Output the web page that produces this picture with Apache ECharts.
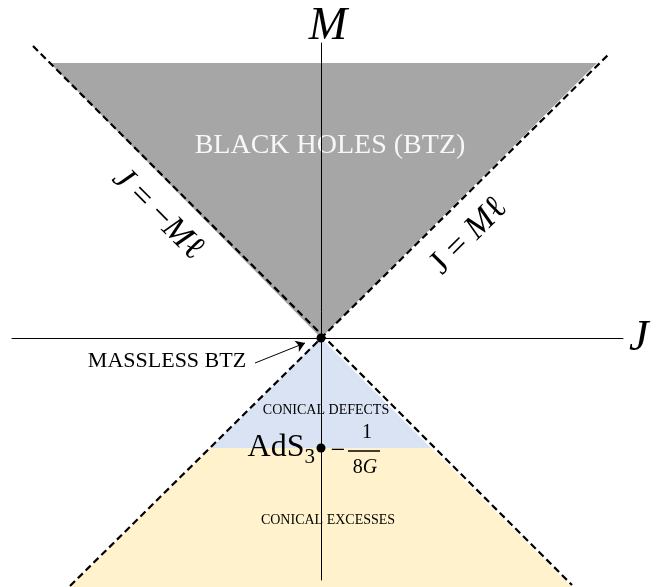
<!DOCTYPE html>
<html>
<head>
<meta charset="utf-8">
<script src="https://cdn.jsdelivr.net/npm/echarts@6/dist/echarts.min.js"></script>
<style>
  html, body { margin: 0; padding: 0; background: #fff; }
  #chart { width: 668px; height: 587px; }
</style>
</head>
<body>
<div id="chart"></div>
<script>
// (J, M) plane, 1 unit = 100px; -1/8G sits at M = -1.10
const blackHoles = [[-2.71, 2.75], [2.76, 2.75], [0, 0]]
const conicalDefects = [[0, 0], [-1.10, -1.10], [1.10, -1.10]]
const conicalExcesses = [[-1.10, -1.10], [1.10, -1.10], [2.52, -2.50], [-2.52, -2.50]]
const lineJminusM = [[-2.88, 2.92], [2.51, -2.47]]
const lineJplusM = [[-2.51, -2.48], [2.88, 2.84]]
const dots = [[0, 0], [0, -1.10]]
const arrow = [[-0.66, -0.25], [-0.16, -0.05]]
const fractionBar = [[0.27, -1.13], [0.59, -1.13]]

const labelTexts = ['BLACK HOLES (BTZ)', 'MASSLESS BTZ', 'CONICAL DEFECTS', 'CONICAL EXCESSES']
const labelAnchors = [[0.09, 1.92], [-1.54, -0.23], [0.05, -0.72], [0.07, -1.82]]

const serif = '"Liberation Serif", "DejaVu Serif", serif'

var myChart = echarts.init(document.getElementById('chart'))

function polygon (points, color) {
  return {
    type: 'custom',
    coordinateSystem: 'cartesian2d',
    silent: true,
    clip: false,
    z: 1,
    data: [[0, 0]],
    renderItem: function (params, api) {
      return {
        type: 'polygon',
        shape: { points: points.map(function (p) { return api.coord(p) }) },
        style: { fill: color }
      }
    }
  }
}

function dashed (points) {
  return {
    type: 'line',
    data: points,
    clip: false,
    silent: true,
    symbol: 'none',
    z: 3,
    lineStyle: { color: '#000', width: 2.2, type: [7, 4] }
  }
}

var textStyles = [
  { fontSize: 28, color: '#f7f7f7' },
  { fontSize: 22, color: '#000' },
  { fontSize: 14, color: '#000' },
  { fontSize: 14, color: '#000' }
]

var option = {
  animation: false,
  grid: { left: 12, right: 45, top: 43, bottom: 7 },
  xAxis: {
    type: 'value',
    min: -3.09,
    max: 3.02,
    name: 'J',
    nameLocation: 'end',
    nameGap: 6,
    nameTextStyle: { fontFamily: serif, fontStyle: 'italic', fontSize: 44, color: '#000' },
    axisLine: { onZero: true, lineStyle: { color: '#000', width: 1 } },
    axisTick: { show: false },
    axisLabel: { show: false },
    splitLine: { show: false },
    z: 10
  },
  yAxis: {
    type: 'value',
    min: -2.42,
    max: 2.95,
    name: 'M',
    nameLocation: 'end',
    nameGap: -2,
    nameTextStyle: { fontFamily: serif, fontStyle: 'italic', fontSize: 46, color: '#000', lineHeight: 36, padding: [0, 0, 0, 14] },
    axisLine: { onZero: true, lineStyle: { color: '#000', width: 1 } },
    axisTick: { show: false },
    axisLabel: { show: false },
    splitLine: { show: false },
    z: 10
  },
  series: [
    polygon(blackHoles, '#a6a6a6'),
    polygon(conicalDefects, '#dae3f3'),
    polygon(conicalExcesses, '#fff2cc'),
    dashed(lineJminusM),
    dashed(lineJplusM),
    {
      type: 'lines',
      coordinateSystem: 'cartesian2d',
      silent: true,
      z: 4,
      symbol: ['none', 'arrow'],
      symbolSize: 9,
      lineStyle: { color: '#000', width: 1, opacity: 1 },
      data: [{ coords: arrow }]
    },
    {
      type: 'line',
      data: fractionBar,
      silent: true,
      symbol: 'none',
      z: 4,
      lineStyle: { color: '#000', width: 1.5 }
    },
    {
      type: 'scatter',
      data: dots,
      symbol: 'circle',
      symbolSize: 9,
      z: 12,
      itemStyle: { color: '#000', opacity: 1 }
    },
    {
      type: 'scatter',
      symbolSize: 0,
      silent: true,
      z: 6,
      itemStyle: { opacity: 1 },
      data: labelTexts.map(function (t, i) {
        return {
          value: labelAnchors[i],
          label: Object.assign({
            show: true,
            position: 'inside',
            formatter: t,
            fontFamily: serif
          }, textStyles[i])
        }
      }).concat([
        {
          value: [-1.63, 1.24],
          label: {
            show: true, position: 'inside', rotate: -45,
            formatter: '{i|J} = \u2212{i|M}\u2113',
            fontFamily: serif, fontSize: 34, color: '#000',
            rich: { i: { fontFamily: serif, fontStyle: 'italic', fontSize: 34, color: '#000' } }
          }
        },
        {
          value: [1.48, 1.02],
          label: {
            show: true, position: 'inside', rotate: 45,
            formatter: 'J = {i|M}\u2113',
            fontFamily: serif, fontSize: 34, color: '#000',
            rich: { i: { fontFamily: serif, fontStyle: 'italic', fontSize: 34, color: '#000' } }
          }
        },
        {
          value: dots[1],
          label: {
            show: true, position: 'left', distance: 6,
            formatter: 'AdS{s|3}',
            fontFamily: serif, fontSize: 32, color: '#000',
            rich: { s: { fontFamily: serif, fontSize: 21, color: '#000', padding: [18, 0, 0, 0] } }
          }
        },
        {
          value: [0.17, -1.13],
          label: { show: true, position: 'inside', formatter: '\u2212', fontFamily: serif, fontSize: 26, color: '#000' }
        },
        {
          value: [0.46, -0.95],
          label: { show: true, position: 'inside', formatter: '1', fontFamily: serif, fontSize: 20, color: '#000' }
        },
        {
          value: [0.44, -1.30],
          label: { show: true, position: 'inside', formatter: '8{i|G}', fontFamily: serif, fontSize: 20, color: '#000',
            rich: { i: { fontFamily: serif, fontStyle: 'italic', fontSize: 20, color: '#000' } } }
        }
      ])
    }
  ]
}
myChart.setOption(option)
</script>
</body>
</html>
